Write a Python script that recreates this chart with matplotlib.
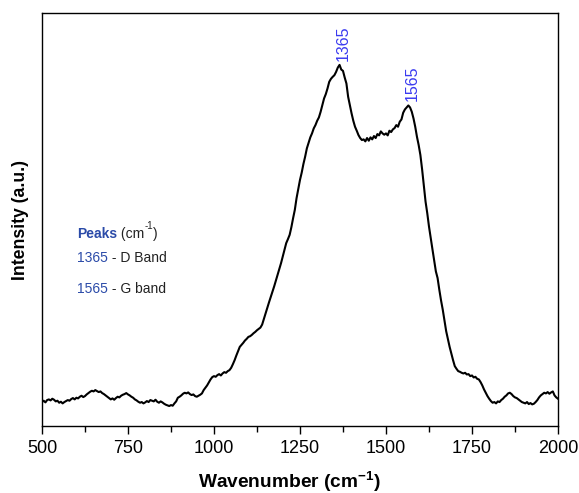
import matplotlib
matplotlib.use("Agg")
import matplotlib.pyplot as plt
from matplotlib.ticker import MultipleLocator

plt.rcParams['font.family'] = ['Liberation Sans', 'DejaVu Sans']
plt.rcParams['mathtext.fontset'] = 'custom'
plt.rcParams['mathtext.rm'] = 'Liberation Sans'
plt.rcParams['mathtext.bf'] = 'Liberation Sans:bold'

# Raman spectrum, 500-2000 cm^-1 sampled every 5 cm^-1 (arbitrary intensity units)
wn_start, wn_stop, wn_step = 500, 2000, 5
intensity = [
    72, 76, 71, 78, 80, 77, 82, 79, 74, 76,            # 500-545
    70, 73, 68, 72, 75, 78, 76, 81, 84, 80,            # 550-595
    85, 83, 88, 91, 87, 90, 95, 99, 103, 106,          # 600-645
    104, 108, 105, 102, 104, 99, 96, 92, 88, 84,       # 650-695
    80, 83, 79, 84, 88, 86, 91, 94, 96, 99,            # 700-745
    95, 92, 88, 85, 80, 77, 73, 70, 72, 68,            # 750-795
    71, 75, 72, 78, 76, 74, 79, 73, 70, 74,            # 800-845
    71, 67, 64, 62, 60, 63, 61, 68, 74, 85,            # 850-895
    88, 92, 97, 100, 98, 101, 96, 93, 95, 90,          # 900-945
    88, 91, 94, 98, 108, 115, 122, 131, 140, 147,      # 950-995
    150, 148, 153, 156, 152, 158, 162, 160, 165, 168,  # 1000-1045
    175, 186, 198, 212, 225, 238, 244, 250, 257, 262,  # 1050-1095
    268, 270, 274, 279, 283, 288, 292, 296, 305, 322,  # 1100-1145
    340, 355, 372, 388, 405, 420, 438, 455, 472, 490,  # 1150-1195
    510, 530, 550, 562, 575, 598, 625, 650, 685, 712,  # 1200-1245
    740, 762, 788, 810, 835, 852, 868, 880, 895, 905,  # 1250-1295
    918, 928, 945, 965, 985, 998, 1015, 1035, 1044, 1050,  # 1300-1345
    1055, 1065, 1078, 1086, 1072, 1068, 1048, 1030, 990, 965,  # 1350-1395
    940, 918, 900, 888, 875, 866, 860, 862, 856, 866,  # 1400-1445
    858, 868, 862, 872, 866, 878, 874, 886, 880, 876,  # 1450-1495
    880, 874, 888, 884, 892, 896, 905, 900, 915, 922,  # 1500-1545
    942, 952, 958, 964, 958, 945, 925, 900, 870, 845,  # 1550-1595
    815, 772, 725, 675, 640, 600, 565, 532, 498, 465,  # 1600-1645
    445, 410, 378, 350, 318, 285, 262, 238, 218, 198,  # 1650-1695
    180, 172, 165, 163, 160, 158, 160, 155, 156, 150,  # 1700-1745
    152, 146, 148, 142, 140, 132, 122, 110, 100, 90,   # 1750-1795
    82, 75, 70, 72, 68, 74, 72, 78, 82, 88,            # 1800-1845
    92, 98, 100, 96, 90, 86, 84, 80, 76, 72,           # 1850-1895
    70, 68, 72, 66, 69, 65, 67, 72, 78, 86,            # 1900-1945
    92, 96, 100, 98, 102, 97, 101, 104, 92, 86,        # 1950-1995
    82,                                                # 2000
]
wavenumber = list(range(wn_start, wn_stop + 1, wn_step))

peak_positions = [1365, 1565]
peak_heights = [1086, 964]
peak_bands = ["D Band", "G band"]
key_rows_y = [494, 399]

fig = plt.figure(figsize=(5.79, 4.93), dpi=100)
ax = fig.add_axes([0.0725, 0.1359, 0.8912, 0.8377])

ax.plot(wavenumber, intensity, color='black', lw=1.5)

ax.set_xlim(500, 2000)
ax.set_ylim(0, 1242)
ax.xaxis.set_major_locator(MultipleLocator(250))
ax.xaxis.set_minor_locator(MultipleLocator(125))
ax.tick_params(axis='x', which='major', direction='out', length=6, width=1,
               labelsize=13, pad=4)
ax.tick_params(axis='x', which='minor', direction='out', length=4, width=1)
ax.set_yticks([])
for s in ax.spines.values():
    s.set_linewidth(1.0)

ax.set_xlabel(r'Wavenumber (cm$^{\mathbf{-1}}$)', fontsize=13.8, fontweight='bold')
ax.xaxis.set_label_coords(0.48, -0.105)
ax.set_ylabel('Intensity (a.u.)', fontsize=12.7, fontweight='bold')
ax.yaxis.set_label_coords(-0.026, 0.5)

# Peak labels above each band
for pos, h in zip(peak_positions, peak_heights):
    ax.text(pos + 12, h + 12, str(pos), rotation=90, ha='center', va='bottom',
            color='#3a3af0', fontsize=11.5)

# Peak key
key_blue = '#2a4aa8'
key_dark = '#222222'
t0 = ax.text(601, 564, 'Peaks', color=key_blue, fontweight='bold', fontsize=10)
t1 = ax.annotate(' (cm', xy=(1, 0), xycoords=t0, va='bottom', color=key_dark, fontsize=10)
t2 = ax.annotate('-1', xy=(1, 1), xycoords=t1, va='center', color=key_dark, fontsize=7,
                 xytext=(0.5, 1), textcoords='offset points')
ax.annotate(')', xy=(1, 0), xycoords=(t2, t1), va='bottom', color=key_dark, fontsize=10)
for pos, band, y in zip(peak_positions, peak_bands, key_rows_y):
    t = ax.text(601, y, str(pos), color=key_blue, fontsize=10)
    ax.annotate(' - ' + band, xy=(1, 0), xycoords=t, va='bottom', color=key_dark, fontsize=10)

fig.savefig('out.png', dpi=100)
